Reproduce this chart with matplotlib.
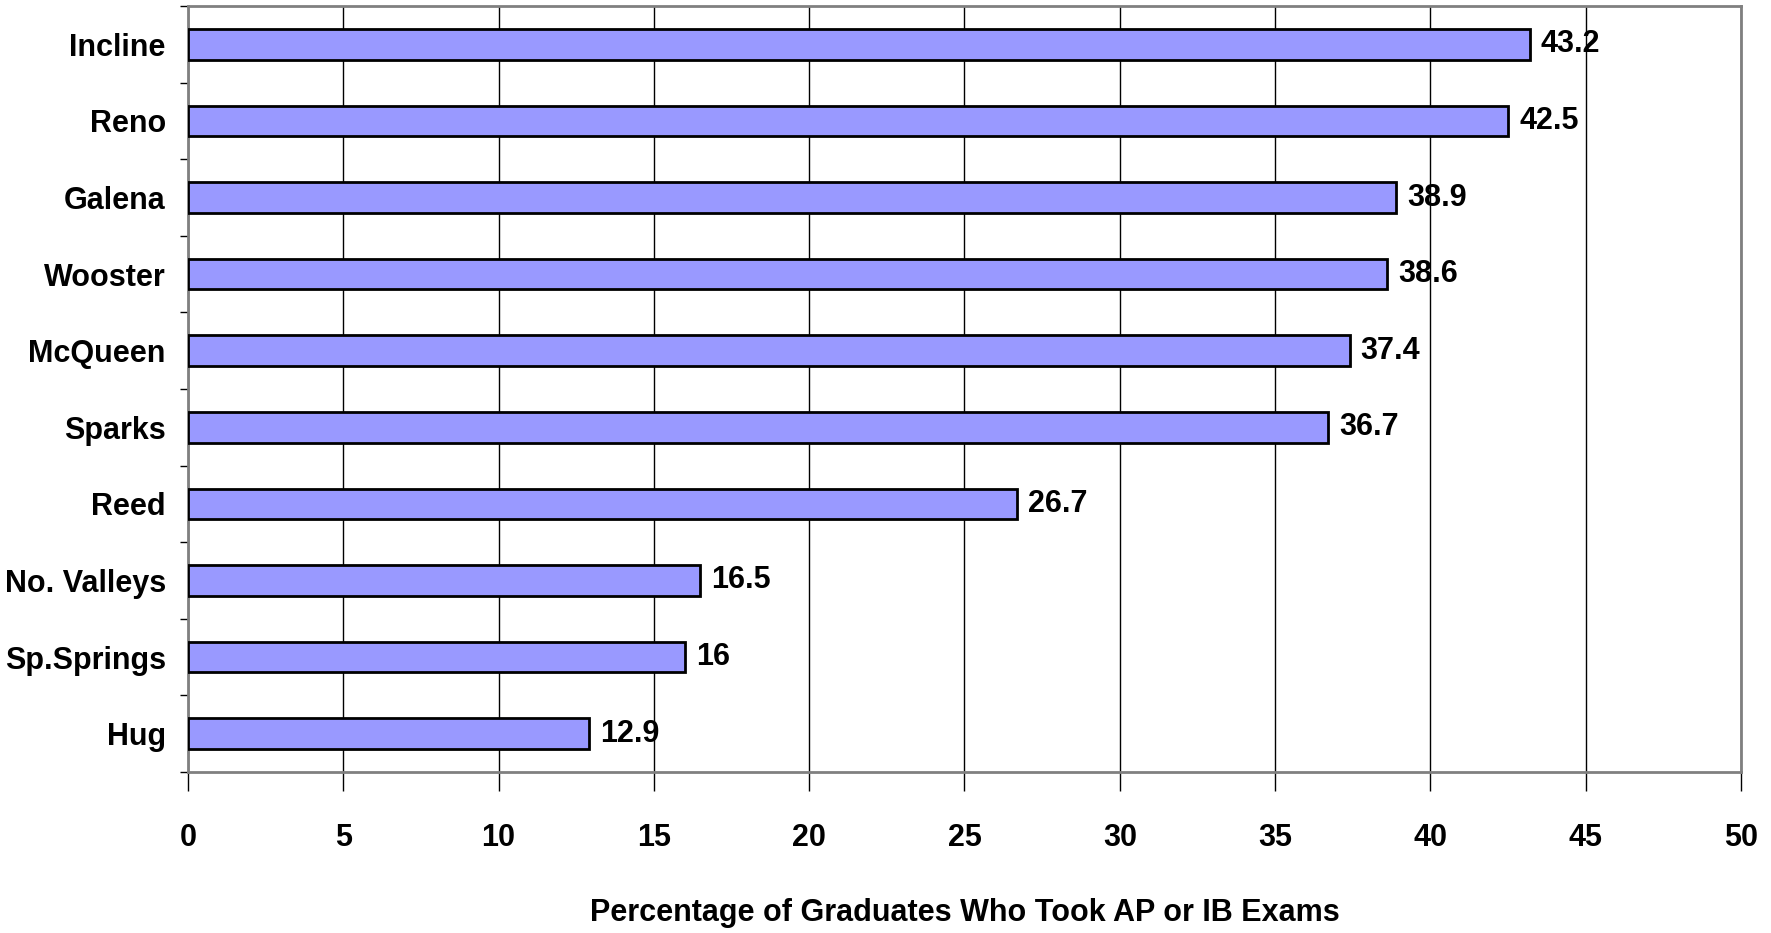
import matplotlib.pyplot as plt

schools = ['Incline', 'Reno', 'Galena', 'Wooster', 'McQueen', 'Sparks', 'Reed',
           'No. Valleys', 'Sp.Springs', 'Hug']
percent = [43.2, 42.5, 38.9, 38.6, 37.4, 36.7, 26.7, 16.5, 16, 12.9]
xticks = [0, 5, 10, 15, 20, 25, 30, 35, 40, 45, 50]

plt.rcParams['font.family'] = ['Liberation Sans Narrow', 'Liberation Sans', 'DejaVu Sans']
plt.rcParams['font.weight'] = 'bold'

fig = plt.figure(figsize=(17.71, 9.33), dpi=100)
ax = fig.add_axes([188 / 1771, 1 - 772 / 933, (1741 - 188) / 1771, (772 - 6) / 933])

ypos = list(range(len(schools)))
bars = ax.barh(ypos, percent, height=0.4, color='#9999FF', edgecolor='black', linewidth=2, zorder=3)
labels = [f'{v:g}' for v in percent]
ax.bar_label(bars, labels=labels, padding=8, fontsize=22, fontweight='bold', zorder=4)

ax.set_xlim(0, 50)
ax.set_ylim(len(schools) - 0.5, -0.5)
ax.set_xticks(xticks)
ax.set_xticklabels([str(t) for t in xticks], fontsize=22, fontweight='bold')
ax.set_yticks(ypos)
ax.set_yticklabels(schools, fontsize=22, fontweight='bold')
ax.set_yticks([i + 0.5 for i in range(-1, len(schools))], minor=True)
ax.tick_params(axis='y', which='major', length=0, pad=16)
ax.tick_params(axis='y', which='minor', length=6, width=1, color='black')
ax.tick_params(axis='x', length=14, width=1, color='black', pad=23)
ax.grid(axis='x', color='black', linewidth=1, zorder=0)
for s in ax.spines.values():
    s.set_color('#808080')
    s.set_linewidth(2)

ax.set_xlabel('Percentage of Graduates Who Took AP or IB Exams', fontsize=22, fontweight='bold', labelpad=32)

plt.savefig('out.png', dpi=100)
